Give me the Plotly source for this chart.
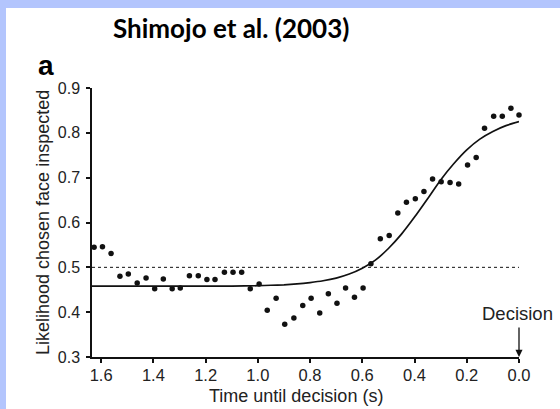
import plotly.graph_objects as go

# ---- data ----
time_s = [1.627, 1.595, 1.562, 1.528, 1.496, 1.462, 1.428, 1.395, 1.362, 1.328,
          1.297, 1.262, 1.228, 1.195, 1.164, 1.128, 1.095, 1.062, 1.029, 0.995,
          0.964, 0.930, 0.897, 0.862, 0.828, 0.796, 0.763, 0.730, 0.697, 0.664,
          0.630, 0.597, 0.567, 0.531, 0.497, 0.464, 0.431, 0.397, 0.364, 0.331,
          0.298, 0.264, 0.231, 0.197, 0.164, 0.132, 0.097, 0.064, 0.031, 0.000]
likelihood = [0.545, 0.546, 0.531, 0.480, 0.485, 0.465, 0.476, 0.452, 0.474, 0.452,
              0.454, 0.481, 0.481, 0.473, 0.473, 0.489, 0.489, 0.489, 0.452, 0.463,
              0.404, 0.431, 0.373, 0.387, 0.415, 0.431, 0.398, 0.441, 0.420, 0.454,
              0.433, 0.454, 0.508, 0.564, 0.571, 0.621, 0.645, 0.653, 0.669, 0.697,
              0.691, 0.689, 0.686, 0.728, 0.745, 0.810, 0.837, 0.837, 0.855, 0.840]

fit_time = [1.635, 1.4, 1.2, 1.1, 1.0, 0.95, 0.9, 0.85, 0.8, 0.75, 0.7, 0.65, 0.6,
            0.55, 0.5, 0.45, 0.4, 0.35, 0.3, 0.25, 0.2, 0.15, 0.1, 0.05, 0.0]
fit_likelihood = [0.458, 0.458, 0.458, 0.458, 0.459, 0.460, 0.461, 0.463, 0.466, 0.470,
                  0.476, 0.485, 0.498, 0.516, 0.542, 0.574, 0.612, 0.653, 0.695, 0.731,
                  0.762, 0.786, 0.803, 0.816, 0.825]

chance_level = 0.5
x_ticks = [1.6, 1.4, 1.2, 1.0, 0.8, 0.6, 0.4, 0.2, 0.0]
x_tick_labels = ["1.6", "1.4", "1.2", "1.0", "0.8", "0.6", "0.4", "0.2", "0.0"]
y_ticks = [0.3, 0.4, 0.5, 0.6, 0.7, 0.8, 0.9]
y_tick_labels = ["0.3", "0.4", "0.5", "0.6", "0.7", "0.8", "0.9"]
x_range = [1.635, 0.0]
y_range = [0.3, 0.9]
decision_time = 0.0

BLUE = "#b3c5fd"
INK = "#111111"
FONT = "Liberation Sans, Arial, sans-serif"

fig = go.Figure()

fig.add_trace(go.Scatter(
    x=[x_range[0], decision_time], y=[chance_level, chance_level],
    mode="lines", line=dict(color=INK, width=1, dash="dot"),
    hoverinfo="skip", showlegend=False))

fig.add_trace(go.Scatter(
    x=fit_time, y=fit_likelihood, mode="lines",
    line=dict(color=INK, width=1.7, shape="spline", smoothing=0.6),
    showlegend=False, cliponaxis=False))

fig.add_trace(go.Scatter(
    x=time_s, y=likelihood, mode="markers",
    marker=dict(color=INK, size=5.5, line=dict(width=0)),
    showlegend=False, cliponaxis=False))

axis_common = dict(
    showgrid=False, zeroline=False, showline=True, linecolor=INK, linewidth=1.5,
    ticks="outside", ticklen=4, tickwidth=1.5, tickcolor=INK,
    mirror=False,
)

fig.update_xaxes(range=x_range, tickmode="array", tickvals=x_ticks,
                 ticktext=x_tick_labels, ticklabelstandoff=-2,
                 tickfont=dict(family=FONT, size=16.5, color="#222"),
                 **axis_common)
fig.update_yaxes(range=y_range, tickmode="array", tickvals=y_ticks,
                 ticktext=y_tick_labels, ticklabelstandoff=3,
                 tickfont=dict(family=FONT, size=16, color="#222"),
                 **axis_common)

L, R, T, B = 92, 41, 88, 52
W, H = 560, 409
pw, ph = W - L - R, H - T - B

def px(xp):
    return (xp - L) / pw

def py(yp):
    return (H - B - yp) / ph

shapes = [
    # blue frame (top and left)
    dict(type="rect", xref="paper", yref="paper", x0=px(-5), x1=px(W + 5),
         y0=py(8), y1=py(-5), fillcolor=BLUE, line=dict(width=0), layer="below"),
    dict(type="rect", xref="paper", yref="paper", x0=px(-5), x1=px(6),
         y0=py(H + 5), y1=py(-5), fillcolor=BLUE, line=dict(width=0), layer="below"),
]

annotations = [
    dict(text="<b>Shimojo et al. (2003)</b>", xref="paper", yref="paper",
         x=px(231), y=py(28), xanchor="center", yanchor="middle", showarrow=False,
         font=dict(family="Lato, Open Sans, sans-serif", size=26, color="#000")),
    dict(text="<b>a</b>", xref="paper", yref="paper",
         x=px(46), y=py(65), xanchor="center", yanchor="middle", showarrow=False,
         font=dict(family=FONT, size=28, color="#000")),
    dict(text="Likelihood chosen face inspected", xref="paper", yref="paper",
         x=px(43), y=py(223), xanchor="center", yanchor="middle", textangle=-90,
         showarrow=False, font=dict(family=FONT, size=18, color="#222")),
    dict(text="Time until decision (s)", xref="paper", yref="paper",
         x=px(296), y=py(396), xanchor="center", yanchor="middle",
         showarrow=False, font=dict(family=FONT, size=18, color="#222")),
    dict(text="Decision", xref="paper", yref="paper",
         x=px(517), y=py(313), xanchor="center", yanchor="middle",
         showarrow=False, font=dict(family=FONT, size=18.5, color="#222")),
    dict(text="", x=decision_time, y=y_range[0], xref="x", yref="y",
         ax=0, ay=-31, axref="pixel", ayref="pixel", showarrow=True,
         arrowhead=2, arrowsize=1.1, arrowwidth=1.3, arrowcolor=INK),
]

fig.update_layout(
    width=W, height=H, margin=dict(l=L, r=R, t=T, b=B, pad=0),
    paper_bgcolor="white", plot_bgcolor="white",
    shapes=shapes, annotations=annotations, showlegend=False,
)

fig.write_html("out.html")
